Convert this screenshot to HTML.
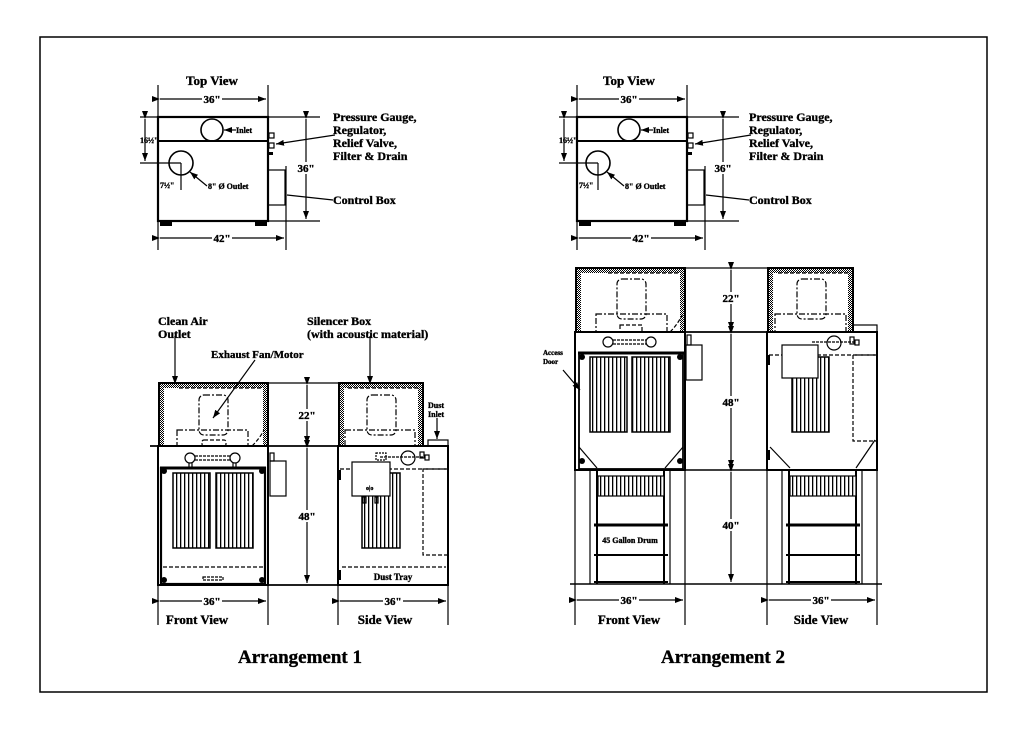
<!DOCTYPE html>
<html><head><meta charset="utf-8"><style>
html,body{margin:0;padding:0;background:#fff;}
svg{display:block;}
text{font-family:"Liberation Serif",serif;font-weight:bold;fill:#000;stroke:#000;stroke-width:0.35;}
</style></head><body>
<svg width="1026" height="730" viewBox="0 0 1026 730" xmlns="http://www.w3.org/2000/svg">
<defs>
<pattern id="dots" width="2" height="2" patternUnits="userSpaceOnUse"><rect width="2" height="2" fill="#fff"/><rect width="1" height="1" fill="#000"/><rect x="1" y="1" width="1" height="1" fill="#000"/></pattern>
<pattern id="stripes" width="4" height="4" patternUnits="userSpaceOnUse"><rect width="4" height="4" fill="#fff"/><rect width="1.3" height="4" fill="#000"/></pattern>
<marker id="ar" markerWidth="8" markerHeight="6" refX="8" refY="3" orient="auto" markerUnits="userSpaceOnUse"><path d="M0,0 L8,3 L0,6 z" fill="#000"/></marker>
</defs>
<rect x="40" y="37" width="947" height="655" fill="none" stroke="#000" stroke-width="1.5"/>

<!-- ===== TOP VIEW A1 ===== -->
<g stroke="#000" fill="none" stroke-width="1.2">
<line x1="158" y1="85" x2="158" y2="250"/><line x1="268" y1="85" x2="268" y2="117"/>
<line x1="160" y1="99" x2="266" y2="99" marker-start="url(#ar)" marker-end="url(#ar)"/>
<line x1="140" y1="117" x2="320" y2="117"/>
<rect x="158" y="117" width="110" height="104" stroke-width="2.2"/>
<line x1="158" y1="141" x2="268" y2="141" stroke-width="2"/>
<circle cx="212" cy="130" r="11" stroke-width="1.6"/><circle cx="181" cy="163" r="12" stroke-width="1.6"/>
<line x1="140" y1="163" x2="181" y2="163"/><line x1="181" y1="163" x2="181" y2="190"/>
<line x1="145" y1="119" x2="145" y2="161" marker-start="url(#ar)" marker-end="url(#ar)"/>
<rect x="268" y="170" width="17" height="35"/>
<line x1="286" y1="166" x2="286" y2="250"/>
<line x1="268" y1="221" x2="320" y2="221"/>
<line x1="306" y1="119" x2="306" y2="219" marker-start="url(#ar)" marker-end="url(#ar)"/>
<line x1="160" y1="238" x2="284" y2="238" marker-start="url(#ar)" marker-end="url(#ar)"/>
<rect x="269" y="133" width="5" height="5"/><rect x="269" y="143" width="5" height="5"/>
<line x1="335" y1="135" x2="276" y2="144" marker-end="url(#ar)"/>
<line x1="333" y1="200" x2="287" y2="195"/>
<line x1="236" y1="130" x2="224" y2="130" marker-end="url(#ar)"/>
<line x1="207" y1="186" x2="190" y2="172" marker-end="url(#ar)"/>
</g>
<rect x="160" y="221" width="12" height="5" fill="#000"/><rect x="255" y="221" width="12" height="5" fill="#000"/>
<rect x="269" y="152" width="4" height="3" fill="#000"/>
<text x="212" y="85" font-size="13" text-anchor="middle">Top View</text>
<rect x="202" y="93" width="20" height="12" fill="#fff"/>
<text x="212" y="103" font-size="11" text-anchor="middle">36"</text>
<text x="236" y="133" font-size="8">Inlet</text>
<text x="140" y="143" font-size="8">16½"</text>
<text x="160" y="188" font-size="8">7½"</text>
<text x="208" y="189" font-size="8">8" Ø Outlet</text>
<rect x="298" y="162" width="16" height="12" fill="#fff"/>
<text x="306" y="172" font-size="11" text-anchor="middle">36"</text>
<rect x="212" y="232" width="20" height="12" fill="#fff"/>
<text x="222" y="242" font-size="11" text-anchor="middle">42"</text>
<text x="333" y="121" font-size="12">Pressure Gauge,</text>
<text x="333" y="134" font-size="12">Regulator,</text>
<text x="333" y="147" font-size="12">Relief Valve,</text>
<text x="333" y="160" font-size="12">Filter &amp; Drain</text>
<text x="333" y="204" font-size="12">Control Box</text>

<!-- ===== TOP VIEW A2 ===== -->
<g transform="translate(419,0)">
<g stroke="#000" fill="none" stroke-width="1.2">
<line x1="158" y1="85" x2="158" y2="250"/><line x1="268" y1="85" x2="268" y2="117"/>
<line x1="160" y1="99" x2="266" y2="99" marker-start="url(#ar)" marker-end="url(#ar)"/>
<line x1="140" y1="117" x2="320" y2="117"/>
<rect x="158" y="117" width="110" height="104" stroke-width="2.2"/>
<line x1="158" y1="141" x2="268" y2="141" stroke-width="2"/>
<circle cx="210" cy="130" r="11" stroke-width="1.6"/><circle cx="179" cy="163" r="12" stroke-width="1.6"/>
<line x1="140" y1="163" x2="179" y2="163"/><line x1="179" y1="163" x2="179" y2="190"/>
<line x1="145" y1="119" x2="145" y2="161" marker-start="url(#ar)" marker-end="url(#ar)"/>
<rect x="268" y="170" width="17" height="35"/>
<line x1="286" y1="166" x2="286" y2="250"/>
<line x1="268" y1="221" x2="320" y2="221"/>
<line x1="304" y1="119" x2="304" y2="219" marker-start="url(#ar)" marker-end="url(#ar)"/>
<line x1="160" y1="238" x2="284" y2="238" marker-start="url(#ar)" marker-end="url(#ar)"/>
<rect x="269" y="133" width="5" height="5"/><rect x="269" y="143" width="5" height="5"/>
<line x1="332" y1="135" x2="276" y2="144" marker-end="url(#ar)"/>
<line x1="330" y1="200" x2="287" y2="195"/>
<line x1="234" y1="130" x2="222" y2="130" marker-end="url(#ar)"/>
<line x1="205" y1="186" x2="188" y2="172" marker-end="url(#ar)"/>
</g>
<rect x="160" y="221" width="12" height="5" fill="#000"/><rect x="255" y="221" width="12" height="5" fill="#000"/>
<rect x="269" y="152" width="4" height="3" fill="#000"/>
<text x="210" y="85" font-size="13" text-anchor="middle">Top View</text>
<rect x="200" y="93" width="20" height="12" fill="#fff"/>
<text x="210" y="103" font-size="11" text-anchor="middle">36"</text>
<text x="234" y="133" font-size="8">Inlet</text>
<text x="140" y="143" font-size="8">16½"</text>
<text x="160" y="188" font-size="8">7½"</text>
<text x="206" y="189" font-size="8">8" Ø Outlet</text>
<rect x="296" y="162" width="16" height="12" fill="#fff"/>
<text x="304" y="172" font-size="11" text-anchor="middle">36"</text>
<rect x="212" y="232" width="20" height="12" fill="#fff"/>
<text x="222" y="242" font-size="11" text-anchor="middle">42"</text>
<text x="330" y="121" font-size="12">Pressure Gauge,</text>
<text x="330" y="134" font-size="12">Regulator,</text>
<text x="330" y="147" font-size="12">Relief Valve,</text>
<text x="330" y="160" font-size="12">Filter &amp; Drain</text>
<text x="330" y="204" font-size="12">Control Box</text>
</g>

<!-- ===== ARRANGEMENT 1 FRONT ===== -->
<g stroke="#000" fill="none" stroke-width="1.2">
<rect x="159" y="383" width="109" height="63" fill="url(#dots)" stroke-width="2"/>
<rect x="164" y="388" width="99" height="58" fill="#fff" stroke="none"/>
<path d="M179 388 H263" stroke-dasharray="4,2"/>
<rect x="199" y="395" width="29" height="40" rx="5" stroke-dasharray="6,2,2,2"/>
<rect x="177" y="430" width="71" height="16" stroke-dasharray="6,2,2,2"/>
<rect x="202" y="440" width="24" height="6" rx="2" stroke-dasharray="4,2"/>
<path d="M252 446 Q260 438 264 430" stroke-dasharray="4,2"/>
<line x1="175" y1="336" x2="175" y2="384" marker-end="url(#ar)"/>
<line x1="255" y1="360" x2="213" y2="418" marker-end="url(#ar)"/>
<line x1="150" y1="446" x2="448" y2="446" stroke-width="1.8"/>
<rect x="158" y="446" width="110" height="139" stroke-width="2"/>
<rect x="161" y="468" width="104" height="116" stroke-width="2.2"/>
<line x1="160" y1="468" x2="266" y2="468" stroke-width="3"/>
<circle cx="190" cy="458" r="5"/><circle cx="235" cy="458" r="5"/>
<line x1="195" y1="456" x2="230" y2="456" stroke-dasharray="3,1"/><line x1="195" y1="460" x2="230" y2="460" stroke-dasharray="3,1"/>
<line x1="189" y1="463" x2="189" y2="469"/><line x1="192" y1="463" x2="192" y2="469"/>
<line x1="233" y1="463" x2="233" y2="469"/><line x1="236" y1="463" x2="236" y2="469"/>
<rect x="173" y="473" width="37" height="75" fill="url(#stripes)" stroke-width="1.5"/>
<rect x="216" y="473" width="37" height="75" fill="url(#stripes)" stroke-width="1.5"/>
<line x1="163" y1="567" x2="263" y2="567" stroke-dasharray="4,2"/>
<rect x="203" y="577" width="20" height="3" stroke-dasharray="3,1"/>
<rect x="270" y="461" width="16" height="35"/>
<rect x="270" y="453" width="4" height="8"/>
<line x1="158" y1="585" x2="158" y2="625"/><line x1="268" y1="585" x2="268" y2="625"/>
<line x1="160" y1="601" x2="266" y2="601" marker-start="url(#ar)" marker-end="url(#ar)"/>
<line x1="268" y1="383" x2="338" y2="383"/>
<line x1="268" y1="585" x2="338" y2="585" stroke-width="1.8"/>
<line x1="307" y1="385" x2="307" y2="444" marker-start="url(#ar)" marker-end="url(#ar)"/>
<line x1="307" y1="448" x2="307" y2="583" marker-start="url(#ar)" marker-end="url(#ar)"/>
<rect x="339" y="383" width="84" height="63" fill="url(#dots)" stroke-width="2"/>
<rect x="344" y="388" width="74" height="58" fill="#fff" stroke="none"/>
<path d="M348 388 H418" stroke-dasharray="4,2"/>
<rect x="367" y="395" width="29" height="40" rx="5" stroke-dasharray="6,2,2,2"/>
<rect x="345" y="430" width="70" height="16" stroke-dasharray="6,2,2,2"/>
<line x1="370" y1="336" x2="370" y2="384" marker-end="url(#ar)"/>
<rect x="338" y="446" width="110" height="139" stroke-width="2"/>
<rect x="428" y="440" width="20" height="6"/>
<line x1="437" y1="418" x2="437" y2="439" marker-end="url(#ar)"/>
<line x1="340" y1="469" x2="448" y2="469" stroke-dasharray="4,2"/>
<path d="M448 469 H423 V555 H448" stroke-dasharray="4,2"/>
<path d="M363 473 H398" stroke-dasharray="3,2"/>
<rect x="362" y="473" width="38" height="75" fill="url(#stripes)" stroke-width="1.5"/>
<rect x="352" y="462" width="38" height="34" fill="#fff"/>
<rect x="363" y="497" width="3" height="6"/><rect x="375" y="497" width="3" height="6"/>
<circle cx="408" cy="458" r="7"/>
<line x1="380" y1="457" x2="425" y2="457" stroke-dasharray="3,1"/>
<rect x="420" y="452" width="4" height="6"/><rect x="425" y="455" width="4" height="5"/>
<rect x="376" y="453" width="10" height="7" stroke-dasharray="2,1"/>
<line x1="342" y1="567" x2="446" y2="567" stroke-dasharray="4,2"/>
<line x1="338" y1="585" x2="338" y2="625"/><line x1="448" y1="585" x2="448" y2="625"/>
<line x1="340" y1="601" x2="446" y2="601" marker-start="url(#ar)" marker-end="url(#ar)"/>
</g>
<rect x="338" y="470" width="3" height="10" fill="#000"/><rect x="338" y="570" width="3" height="10" fill="#000"/>
<circle cx="164" cy="471" r="3" fill="#000"/><circle cx="262" cy="471" r="3" fill="#000"/>
<circle cx="164" cy="580" r="3" fill="#000"/><circle cx="262" cy="580" r="3" fill="#000"/>
<text x="158" y="325" font-size="12">Clean Air</text>
<text x="158" y="338" font-size="12">Outlet</text>
<text x="211" y="358" font-size="11">Exhaust Fan/Motor</text>
<text x="307" y="325" font-size="12">Silencer Box</text>
<text x="307" y="338" font-size="12">(with acoustic material)</text>
<text x="428" y="408" font-size="8">Dust</text>
<text x="428" y="417" font-size="8">Inlet</text>
<rect x="297" y="409" width="20" height="12" fill="#fff"/>
<text x="307" y="419" font-size="11" text-anchor="middle">22"</text>
<rect x="297" y="510" width="20" height="12" fill="#fff"/>
<text x="307" y="520" font-size="11" text-anchor="middle">48"</text>
<text x="393" y="580" font-size="9" text-anchor="middle">Dust Tray</text>
<text x="366" y="490" font-size="6">o|o</text>
<rect x="202" y="595" width="20" height="12" fill="#fff"/>
<text x="212" y="605" font-size="11" text-anchor="middle">36"</text>
<rect x="383" y="595" width="20" height="12" fill="#fff"/>
<text x="393" y="605" font-size="11" text-anchor="middle">36"</text>
<text x="197" y="624" font-size="13" text-anchor="middle">Front View</text>
<text x="385" y="624" font-size="13" text-anchor="middle">Side View</text>
<text x="300" y="663" font-size="19" text-anchor="middle">Arrangement 1</text>

<!-- ===== ARRANGEMENT 2 ===== -->
<g stroke="#000" fill="none" stroke-width="1.2">
<rect x="576" y="268" width="109" height="64" fill="url(#dots)" stroke-width="2"/>
<rect x="581" y="273" width="99" height="59" fill="#fff" stroke="none"/>
<path d="M608 273 H680" stroke-dasharray="4,2"/>
<rect x="617" y="279" width="29" height="40" rx="5" stroke-dasharray="6,2,2,2"/>
<rect x="596" y="314" width="71" height="18" stroke-dasharray="6,2,2,2"/>
<rect x="620" y="325" width="22" height="7" stroke-dasharray="4,2"/>
<path d="M670 332 Q678 324 682 315" stroke-dasharray="4,2"/>
<line x1="575" y1="332" x2="877" y2="332" stroke-width="1.8"/>
<rect x="575" y="332" width="110" height="138" stroke-width="2"/>
<rect x="579" y="353" width="104" height="116" stroke-width="1.8"/>
<line x1="578" y1="353" x2="684" y2="353" stroke-width="3"/>
<circle cx="608" cy="342" r="5"/><circle cx="651" cy="342" r="5"/>
<line x1="613" y1="340" x2="646" y2="340" stroke-dasharray="3,1"/><line x1="613" y1="344" x2="646" y2="344" stroke-dasharray="3,1"/>
<rect x="590" y="357" width="37" height="75" fill="url(#stripes)" stroke-width="1.5"/>
<rect x="632" y="357" width="38" height="75" fill="url(#stripes)" stroke-width="1.5"/>
<line x1="579" y1="447" x2="597" y2="468"/><line x1="683" y1="447" x2="665" y2="468"/>
<rect x="686" y="345" width="16" height="35"/><rect x="687" y="335" width="4" height="10"/>
<line x1="563" y1="370" x2="580" y2="390" marker-end="url(#ar)"/>
<line x1="575" y1="470" x2="575" y2="625"/><line x1="685" y1="470" x2="685" y2="625"/>
<line x1="590" y1="470" x2="590" y2="584"/><line x1="670" y1="470" x2="670" y2="584"/>
<line x1="597" y1="470" x2="597" y2="584" stroke-width="2"/><line x1="664" y1="470" x2="664" y2="584" stroke-width="2"/>
<rect x="598" y="476" width="66" height="20" fill="url(#stripes)"/>
<line x1="594" y1="525" x2="668" y2="525" stroke-width="3"/>
<line x1="594" y1="555" x2="668" y2="555" stroke-width="2"/>
<line x1="594" y1="582" x2="668" y2="582" stroke-width="2"/>
<line x1="570" y1="584" x2="882" y2="584" stroke-width="1.5"/>
<line x1="685" y1="268" x2="767" y2="268"/>
<line x1="685" y1="470" x2="767" y2="470" stroke-width="1.5"/>
<line x1="731" y1="270" x2="731" y2="330" marker-start="url(#ar)" marker-end="url(#ar)"/>
<line x1="731" y1="334" x2="731" y2="468" marker-start="url(#ar)" marker-end="url(#ar)"/>
<line x1="731" y1="472" x2="731" y2="582" marker-start="url(#ar)" marker-end="url(#ar)"/>
<line x1="577" y1="600" x2="683" y2="600" marker-start="url(#ar)" marker-end="url(#ar)"/>
<rect x="768" y="268" width="85" height="64" fill="url(#dots)" stroke-width="2"/>
<rect x="773" y="273" width="75" height="59" fill="#fff" stroke="none"/>
<path d="M778 273 H848" stroke-dasharray="4,2"/>
<rect x="797" y="279" width="29" height="40" rx="5" stroke-dasharray="6,2,2,2"/>
<rect x="775" y="314" width="71" height="18" stroke-dasharray="6,2,2,2"/>
<rect x="853" y="325" width="24" height="7"/>
<rect x="767" y="332" width="110" height="138" stroke-width="2"/>
<line x1="769" y1="355" x2="877" y2="355" stroke-dasharray="4,2"/>
<path d="M877 355 H853 V441 H877" stroke-dasharray="4,2"/>
<rect x="792" y="357" width="37" height="75" fill="url(#stripes)" stroke-width="1.5"/>
<rect x="782" y="345" width="36" height="33" fill="#fff"/>
<circle cx="834" cy="343" r="7"/>
<line x1="812" y1="342" x2="856" y2="342" stroke-dasharray="3,1"/>
<rect x="850" y="337" width="4" height="7"/><rect x="855" y="340" width="4" height="5"/>
<line x1="770" y1="447" x2="790" y2="468"/><line x1="875" y1="440" x2="856" y2="468"/>
<line x1="767" y1="470" x2="767" y2="625"/><line x1="877" y1="470" x2="877" y2="625"/>
<line x1="782" y1="470" x2="782" y2="584"/><line x1="862" y1="470" x2="862" y2="584"/>
<line x1="789" y1="470" x2="789" y2="584" stroke-width="2"/><line x1="856" y1="470" x2="856" y2="584" stroke-width="2"/>
<rect x="790" y="476" width="66" height="20" fill="url(#stripes)"/>
<line x1="786" y1="525" x2="860" y2="525" stroke-width="3"/>
<line x1="786" y1="555" x2="860" y2="555" stroke-width="2"/>
<line x1="786" y1="582" x2="860" y2="582" stroke-width="2"/>
<line x1="769" y1="600" x2="875" y2="600" marker-start="url(#ar)" marker-end="url(#ar)"/>
</g>
<rect x="767" y="355" width="3" height="10" fill="#000"/><rect x="767" y="450" width="3" height="10" fill="#000"/>
<circle cx="582" cy="357" r="3" fill="#000"/><circle cx="680" cy="357" r="3" fill="#000"/>
<circle cx="582" cy="461" r="3" fill="#000"/><circle cx="680" cy="461" r="3" fill="#000"/>
<text x="543" y="355" font-size="7">Access</text>
<text x="543" y="364" font-size="7">Door</text>
<rect x="721" y="292" width="20" height="12" fill="#fff"/>
<text x="731" y="302" font-size="11" text-anchor="middle">22"</text>
<rect x="721" y="396" width="20" height="12" fill="#fff"/>
<text x="731" y="406" font-size="11" text-anchor="middle">48"</text>
<rect x="721" y="519" width="20" height="12" fill="#fff"/>
<text x="731" y="529" font-size="11" text-anchor="middle">40"</text>
<text x="630" y="543" font-size="8" text-anchor="middle">45 Gallon Drum</text>
<rect x="619" y="594" width="20" height="12" fill="#fff"/>
<text x="629" y="604" font-size="11" text-anchor="middle">36"</text>
<rect x="811" y="594" width="20" height="12" fill="#fff"/>
<text x="821" y="604" font-size="11" text-anchor="middle">36"</text>
<text x="629" y="624" font-size="13" text-anchor="middle">Front View</text>
<text x="821" y="624" font-size="13" text-anchor="middle">Side View</text>
<text x="723" y="663" font-size="19" text-anchor="middle">Arrangement 2</text>
</svg>
</body></html>
